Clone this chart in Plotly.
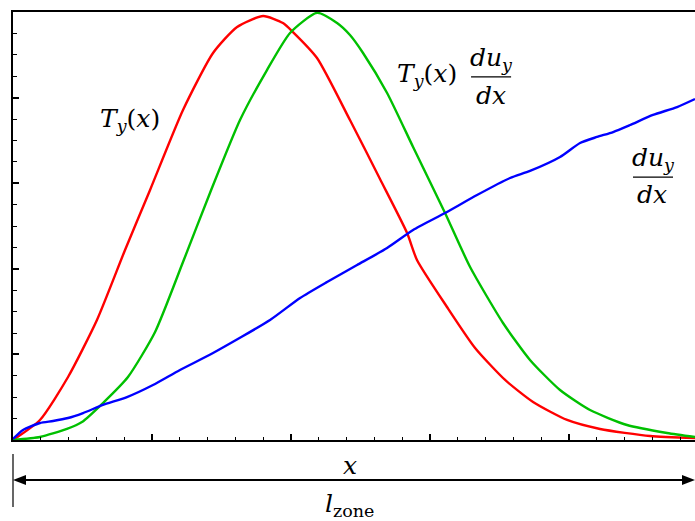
import plotly.graph_objects as go

# Sampled profiles along the zone (x in zone units)
x_T = [0, 0.194, 0.396, 0.604, 0.806, 0.986, 1.223, 1.439, 1.612, 1.799, 1.942, 2.014,
       2.187, 2.424, 2.640, 2.835, 2.906, 3.122, 3.324, 3.540, 3.741, 3.986, 4.223, 4.583, 4.906]
T_y = [0, 0.234, 0.736, 1.402, 2.220, 2.921, 3.855, 4.521, 4.825, 4.953, 4.871, 4.766,
       4.463, 3.738, 3.049, 2.418, 2.103, 1.554, 1.075, 0.701, 0.444, 0.234, 0.129, 0.047, 0.023]

x_TG = [0, 0.194, 0.388, 0.496, 0.647, 0.827, 1.022, 1.223, 1.417, 1.633, 1.827, 1.993, 2.187,
        2.331, 2.424, 2.518, 2.691, 2.878, 3.108, 3.288, 3.525, 3.719, 3.935, 4.151, 4.417, 4.705, 4.906]
T_grad = [0, 0.035, 0.129, 0.210, 0.432, 0.736, 1.262, 2.079, 2.886, 3.738, 4.322, 4.755, 4.99,
          4.871, 4.731, 4.521, 4.054, 3.423, 2.652, 2.021, 1.367, 0.935, 0.584, 0.350, 0.175, 0.082, 0.035]

x_G = [0, 0.072, 0.194, 0.288, 0.396, 0.504, 0.647, 0.820, 1.007, 1.201, 1.439, 1.849, 2.065,
       2.259, 2.475, 2.691, 2.878, 3.108, 3.338, 3.576, 3.719, 3.935, 4.079, 4.201, 4.317, 4.439,
       4.604, 4.777, 4.906]
grad = [0.012, 0.117, 0.199, 0.222, 0.257, 0.315, 0.409, 0.502, 0.643, 0.818, 1.016, 1.402, 1.659,
        1.846, 2.044, 2.243, 2.453, 2.652, 2.862, 3.061, 3.143, 3.306, 3.470, 3.540, 3.598, 3.680,
        3.797, 3.890, 3.984]

X_MAX = 4.906
Y_MAX = 5.0
FONT = "DejaVu Serif"
FS = 25

fig = go.Figure()
for xs, ys, col in [(x_T, T_y, "#ff0000"), (x_TG, T_grad, "#00c000"), (x_G, grad, "#0000ff")]:
    fig.add_trace(go.Scatter(x=xs, y=ys, mode="lines",
                             line=dict(color=col, width=2.4, shape="spline", smoothing=0.6)))

axis_common = dict(showgrid=False, zeroline=False, showticklabels=False,
                   showline=True, linecolor="black", linewidth=2,
                   ticks="inside", ticklen=6, tickwidth=1.5, tickcolor="black", tick0=0, dtick=1)

fig.update_xaxes(range=[0, X_MAX], mirror=True,
                 minor=dict(ticks="inside", ticklen=3, tickwidth=1, tickcolor="black", dtick=0.2),
                 **axis_common)
fig.update_yaxes(range=[0, Y_MAX],
                 minor=dict(ticks="inside", ticklen=4, tickwidth=1, tickcolor="black", dtick=0.25),
                 **axis_common)

def label(text, x, y, ref="data", size=FS):
    xr, yr = ("x", "y") if ref == "data" else ("paper", "paper")
    fig.add_annotation(text=text, x=x, y=y, xref=xr, yref=yr, showarrow=False,
                       xanchor="center", yanchor="middle",
                       font=dict(family=FONT, size=size, color="black"))

def frac_bar(x0, x1, y):
    fig.add_shape(type="line", x0=x0, x1=x1, y0=y, y1=y, xref="x", yref="y",
                  line=dict(color="black", width=1.2))

TY = "<i>T</i><sub><i>y</i></sub>(<i>x</i>)"
DU = "<i>du</i><sub><i>y</i></sub>"
DX = "<i>dx</i>"

# T_y(x)
label(TY, 0.842, 3.74)
# T_y(x) du_y/dx
label(TY, 2.975, 4.26)
label(DU, 3.44, 4.45)
frac_bar(3.295, 3.583, 4.241)
label(DX, 3.44, 4.03)
# du_y/dx
label(DU, 4.61, 3.28)
frac_bar(4.46, 4.748, 3.072)
label(DX, 4.60, 2.87)

# Zone extent marker below the axis: tick at the origin and a double-headed arrow
ARROW_Y = -0.0935
HEAD_W = 13 / 682
HEAD_H = 5 / 428
fig.add_shape(type="line", xref="paper", yref="paper", x0=0, x1=0, y0=-0.0327, y1=-0.1565,
              line=dict(color="black", width=1.2))
fig.add_shape(type="line", xref="paper", yref="paper", x0=0.01, x1=0.99, y0=ARROW_Y, y1=ARROW_Y,
              line=dict(color="black", width=2))
fig.add_shape(type="path", xref="paper", yref="paper", fillcolor="black", line=dict(width=0),
              path=f"M 0 {ARROW_Y} L {HEAD_W} {ARROW_Y + HEAD_H} L {HEAD_W} {ARROW_Y - HEAD_H} Z")
fig.add_shape(type="path", xref="paper", yref="paper", fillcolor="black", line=dict(width=0),
              path=f"M 1 {ARROW_Y} L {1 - HEAD_W} {ARROW_Y + HEAD_H} L {1 - HEAD_W} {ARROW_Y - HEAD_H} Z")
label("<i>x</i>", 0.494, -0.06, ref="paper")
label("<i>l</i><sub>zone</sub>", 0.494, -0.152, ref="paper")

fig.update_layout(width=695, height=521, showlegend=False,
                  margin=dict(l=13, r=0, t=12, b=81),
                  plot_bgcolor="white", paper_bgcolor="white")

fig.write_html("out.html")
